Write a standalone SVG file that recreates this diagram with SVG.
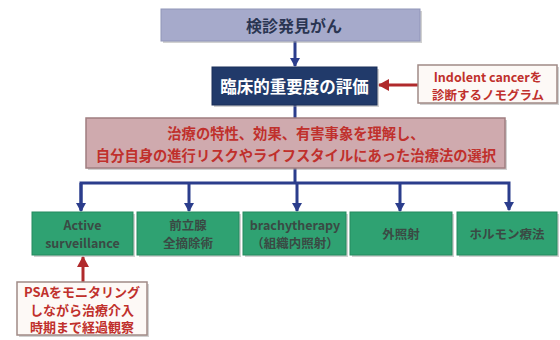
<svg xmlns="http://www.w3.org/2000/svg" width="560" height="340" viewBox="0 0 560 340">
<defs>
<style>
.t{font-family:"Noto Sans CJK JP","Noto Sans",sans-serif;font-weight:bold;text-anchor:middle;dominant-baseline:central}
.g{fill:#2fa272;stroke:#248a5e;stroke-width:1}
.gt{fill:#3a4a44;font-size:12.5px}
.rt{fill:#c0302c}
.sh{fill:#9a9a9a;opacity:0.45}
.blue{stroke:#2b3d8c;stroke-width:3;fill:none}
.red{stroke:#b02a2c;stroke-width:3;fill:none}
</style>
<marker id="ab" markerWidth="10" markerHeight="10" refX="8" refY="5" orient="auto" markerUnits="userSpaceOnUse"><path d="M0,0 L9,5 L0,10 z" fill="#2b3d8c"/></marker>
<marker id="ar" markerWidth="12" markerHeight="12" refX="10" refY="6" orient="auto" markerUnits="userSpaceOnUse"><path d="M0,0 L11,6 L0,12 z" fill="#b02a2c"/></marker>
</defs>
<rect width="560" height="340" fill="#ffffff"/>

<g id="connectors">
<line class="blue" x1="295" y1="41" x2="295" y2="66" marker-end="url(#ab)"/>
<line class="blue" x1="295" y1="105" x2="295" y2="118"/>
<line class="blue" x1="295" y1="168" x2="295" y2="183"/>
<polyline class="blue" points="81,210 81,183 509,183 509,210" marker-end="url(#ab)"/>
<line class="blue" x1="81" y1="183" x2="81" y2="211" marker-end="url(#ab)"/>
<line class="blue" x1="189" y1="183" x2="189" y2="211" marker-end="url(#ab)"/>
<line class="blue" x1="297" y1="183" x2="297" y2="211" marker-end="url(#ab)"/>
<line class="blue" x1="400" y1="183" x2="400" y2="211" marker-end="url(#ab)"/>
<line class="red" x1="418" y1="85" x2="379" y2="85" marker-end="url(#ar)"/>
<line class="red" x1="83" y1="282" x2="83" y2="257" marker-end="url(#ar)"/>
</g>

<g id="screening">
<rect class="sh" x="163" y="11" width="259" height="32"/>
<rect x="161" y="9" width="259" height="32" fill="#a6aacb" stroke="#9095b8"/>
<text class="t" x="294" y="25" font-size="16" fill="#2a3552">検診発見がん</text>
</g>

<g id="evaluation">
<rect class="sh" x="214" y="69" width="165" height="38"/>
<rect x="212" y="67" width="165" height="38" fill="#213a6a" stroke="#1a2f58"/>
<text class="t" x="294.5" y="86" font-size="16.5" fill="#ffffff">臨床的重要度の評価</text>
</g>

<g id="nomogram">
<rect class="sh" x="420" y="67" width="139" height="38"/>
<rect x="418" y="65" width="139" height="38" fill="#fdf9f6" stroke="#a08a86" stroke-width="1.5"/>
<text class="t rt" x="488" y="76.5" font-size="12.5">Indolent cancerを</text>
<text class="t rt" x="488" y="94" font-size="12.5">診断するノモグラム</text>
</g>

<g id="choice">
<rect class="sh" x="88" y="120" width="419" height="50"/>
<rect x="86" y="118" width="419" height="50" fill="#cfaaae" stroke="#a07e80" stroke-width="1.5"/>
<text class="t rt" x="296" y="132" font-size="14.3">治療の特性、効果、有害事象を理解し、</text>
<text class="t rt" x="296" y="154" font-size="14.3">自分自身の進行リスクやライフスタイルにあった治療法の選択</text>
</g>

<g id="active">
<rect class="sh" x="34" y="214" width="101" height="43"/>
<rect class="g" x="32" y="212" width="101" height="43"/>
<text class="t gt" x="82.5" y="224">Active</text>
<text class="t gt" x="82.5" y="242">surveillance</text>
</g>

<g id="prostatectomy">
<rect class="sh" x="139" y="214" width="102" height="43"/>
<rect class="g" x="137" y="212" width="102" height="43"/>
<text class="t gt" x="188" y="224">前立腺</text>
<text class="t gt" x="188" y="242">全摘除術</text>
</g>

<g id="brachy">
<rect class="sh" x="245" y="214" width="103" height="43"/>
<rect class="g" x="243" y="212" width="103" height="43"/>
<text class="t gt" x="295" y="224">brachytherapy</text>
<text class="t gt" x="295" y="242">（組織内照射）</text>
</g>

<g id="external">
<rect class="sh" x="352" y="214" width="102" height="43"/>
<rect class="g" x="350" y="212" width="102" height="43"/>
<text class="t gt" x="401" y="233">外照射</text>
</g>

<g id="hormone">
<rect class="sh" x="459" y="214" width="100" height="43"/>
<rect class="g" x="457" y="212" width="100" height="43"/>
<text class="t gt" x="507" y="233">ホルモン療法</text>
</g>

<g id="psa">
<rect class="sh" x="19" y="284" width="130" height="53"/>
<rect x="17" y="282" width="130" height="53" fill="#fdf9f6" stroke="#a08a86" stroke-width="1.5"/>
<text class="t rt" x="82" y="291.5" font-size="13">PSAをモニタリング</text>
<text class="t rt" x="82" y="309" font-size="13">しながら治療介入</text>
<text class="t rt" x="82" y="326.5" font-size="13">時期まで経過観察</text>
</g>
</svg>
